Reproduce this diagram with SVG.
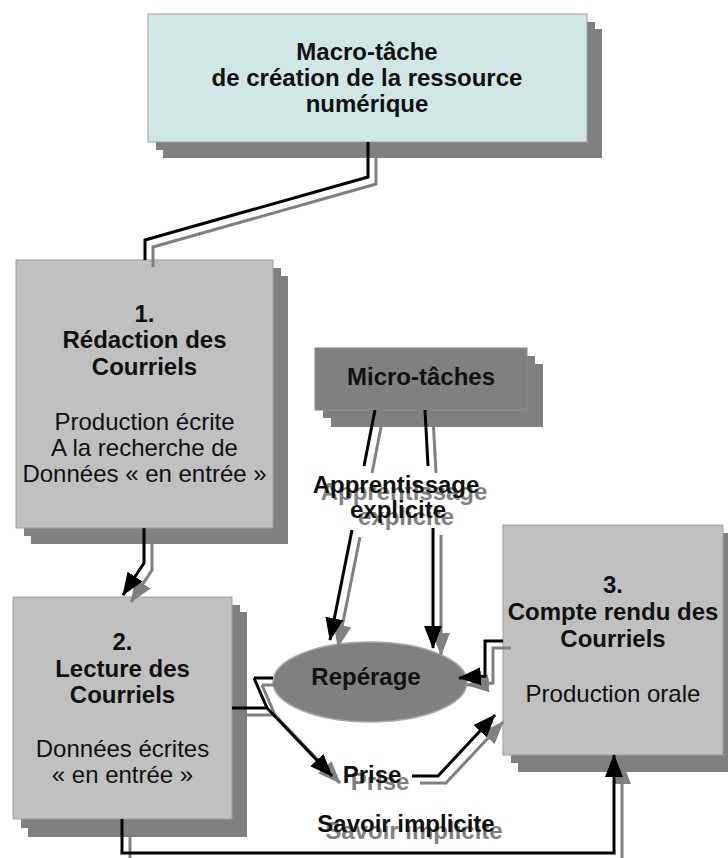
<svg xmlns="http://www.w3.org/2000/svg" width="728" height="858" viewBox="0 0 728 858">
<style>
text{font-family:"Liberation Sans",Arial,sans-serif;font-size:24px;text-anchor:middle;fill:#111}
.b{font-weight:bold}
.sh{fill:#808080}
.box{fill:#c0c0c0;stroke:#a0a0a0;stroke-width:1}
.cb{fill:none;stroke:#000;stroke-width:3}
.cg{fill:none;stroke:#808080;stroke-width:3}
.tg{fill:#808080}
</style>
<defs>
<marker id="ab" markerUnits="userSpaceOnUse" markerWidth="24" markerHeight="20" refX="22" refY="9" orient="auto"><path d="M0,0 L23,9 L0,18 z" fill="#000"/></marker>
<marker id="ag" markerUnits="userSpaceOnUse" markerWidth="24" markerHeight="20" refX="22" refY="9" orient="auto"><path d="M0,0 L23,9 L0,18 z" fill="#808080"/></marker>
</defs>
<rect width="728" height="858" fill="#fff"/>

<g id="macro">
<rect class="sh" x="163" y="29" width="439" height="129"/>
<rect class="sh" x="156" y="22" width="439" height="128"/>
<rect x="148" y="14" width="439" height="128" fill="#d0e7e5" stroke="#a0a0a0" stroke-width="1"/>
<text class="b" x="367" y="60">Macro-tâche</text>
<text class="b" x="367" y="86">de création de la ressource</text>
<text class="b" x="367" y="112">numérique</text>
</g>

<g id="n1">
<rect class="sh" x="31" y="276" width="257" height="268"/>
<rect class="sh" x="24" y="268" width="257" height="268"/>
<rect class="box" x="16" y="260" width="257" height="268"/>
<text class="b" x="144.5" y="322">1.</text>
<text class="b" x="144.5" y="348">Rédaction des</text>
<text class="b" x="144.5" y="375">Courriels</text>
<text x="144.5" y="430">Production écrite</text>
<text x="144.5" y="456">A la recherche de</text>
<text x="144.5" y="482">Données « en entrée »</text>
</g>

<g id="micro">
<rect class="sh" x="331" y="364" width="212" height="63"/>
<rect class="sh" x="323" y="356" width="212" height="62"/>
<rect x="315" y="348" width="212" height="62" fill="#808080" stroke="#8a8a8a" stroke-width="1"/>
<text class="b" x="421" y="385">Micro-tâches</text>
</g>

<g id="n2">
<rect class="sh" x="28" y="612" width="219" height="225"/>
<rect class="sh" x="21" y="605" width="219" height="223"/>
<rect class="box" x="13" y="597" width="219" height="222"/>
<text class="b" x="122.5" y="650">2.</text>
<text class="b" x="122.5" y="677">Lecture des</text>
<text class="b" x="122.5" y="703">Courriels</text>
<text x="122.5" y="757">Données écrites</text>
<text x="122.5" y="783">« en entrée »</text>
</g>

<g id="n3">
<rect class="sh" x="518" y="540" width="220" height="232"/>
<rect class="sh" x="511" y="533" width="220" height="230"/>
<rect class="box" x="503" y="525" width="220" height="230"/>
<text class="b" x="613" y="593">3.</text>
<text class="b" x="613" y="620">Compte rendu des</text>
<text class="b" x="613" y="647">Courriels</text>
<text x="613" y="702">Production orale</text>
</g>

<g id="reperage">
<ellipse cx="370" cy="682" rx="97" ry="40" fill="#808080" stroke="#a8a8a8" stroke-width="1.5"/>
<text class="b" x="366" y="685">Repérage</text>
</g>

<g id="connectors">
<g transform="translate(8,7)">
<path class="cg" d="M368,142 V177 L145,240 V260"/>
<path class="cg" d="M144,528 V563 L123,595" marker-end="url(#ag)"/>
<path class="cg" d="M375,410 L364,466"/>
<path class="cg" d="M352,530 L330,640" marker-end="url(#ag)"/>
<path class="cg" d="M425,410 L428,466"/>
<path class="cg" d="M433,528 V648" marker-end="url(#ag)"/>
<path class="cg" d="M232,708 H267"/>
<path class="cg" d="M254,678 H273"/>
<path class="cg" d="M254,678 L267,708 L332,776" marker-end="url(#ag)"/>
<path class="cg" d="M412,776 H438 L495,715" marker-end="url(#ag)"/>
<path class="cg" d="M503,641 H485 V676 L459,678" marker-end="url(#ag)"/>
<path class="cg" d="M122,819 V853 H614 V755" marker-end="url(#ag)"/>
</g>
<path class="cb" d="M368,142 V177 L145,240 V260"/>
<path class="cb" d="M144,528 V563 L123,595" marker-end="url(#ab)"/>
<path class="cb" d="M375,410 L364,466"/>
<path class="cb" d="M352,530 L330,640" marker-end="url(#ab)"/>
<path class="cb" d="M425,410 L428,466"/>
<path class="cb" d="M433,528 V648" marker-end="url(#ab)"/>
<path class="cb" d="M232,708 H267"/>
<path class="cb" d="M254,678 H273"/>
<path class="cb" d="M254,678 L267,708 L332,776" marker-end="url(#ab)"/>
<path class="cb" d="M412,776 H438 L495,715" marker-end="url(#ab)"/>
<path class="cb" d="M503,641 H485 V676 L459,678" marker-end="url(#ab)"/>
<path class="cb" d="M122,819 V853 H614 V755" marker-end="url(#ab)"/>
</g>

<g id="labels">
<text class="b tg" x="404" y="500">Apprentissage</text>
<text class="b tg" x="406" y="525">explicite</text>
<text class="b" x="396" y="493">Apprentissage</text>
<text class="b" x="398" y="518">explicite</text>
<text class="b tg" x="380" y="790">Prise</text>
<text class="b" x="372" y="783">Prise</text>
<text class="b tg" x="414" y="839">Savoir implicite</text>
<text class="b" x="406" y="832">Savoir implicite</text>
</g>
</svg>
